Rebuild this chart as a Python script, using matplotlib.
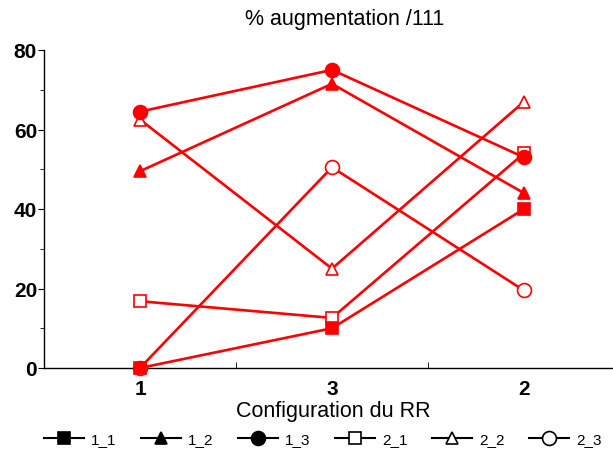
import matplotlib
matplotlib.use("Agg")
import matplotlib.pyplot as plt
from matplotlib.lines import Line2D

categories = ["1", "3", "2"]
series_names = ["1_1", "1_2", "1_3", "2_1", "2_2", "2_3"]
s1_1 = [0, 10, 40]
s1_2 = [49.5, 71.5, 44]
s1_3 = [64.5, 75, 53]
s2_1 = [16.8, 12.6, 54]
s2_2 = [62.5, 25, 67]
s2_3 = [0, 50.5, 19.5]
values = [s1_1, s1_2, s1_3, s2_1, s2_2, s2_3]
markers = ["s", "^", "o", "s", "^", "o"]
filled = [True, True, True, False, False, False]

plt.rcParams['font.family'] = ['Liberation Sans', 'DejaVu Sans']

W, H = 613, 456
fig = plt.figure(figsize=(W / 100, H / 100), dpi=100)
x0 = 140 - 96
ax = fig.add_axes([x0 / W, (H - 369) / H, (W - x0) / W, 318 / H])

xs = list(range(len(categories)))
order = [5, 4, 3, 2, 1, 0]
for i in order:
    ax.plot(xs, values[i], color="red", lw=1.9, marker=markers[i],
            ms=9 if markers[i] != "o" else 10,
            mfc="red" if filled[i] else "white", mec="red", mew=1.2,
            clip_on=False, zorder=3 + (len(order) - i))

ax.set_xlim(-0.5, (W - 140) / 192)
ax.set_ylim(0, 80)
ax.set_xticks(xs)
ax.set_xticklabels(categories, fontsize=15, fontweight="bold")
ax.set_xticks([0.5, 1.5], minor=True)
ax.tick_params(axis="x", which="major", length=0, pad=8)
ax.tick_params(axis="x", which="minor", length=4, direction="in")
ax.set_yticks([0, 20, 40, 60, 80])
ax.set_yticklabels(["0", "20", "40", "60", "80"], fontsize=15, fontweight="bold")
ax.set_yticks([10, 30, 50, 70], minor=True)
ax.tick_params(axis="y", which="major", length=4, pad=1)
ax.tick_params(axis="y", which="minor", length=3)
for s in ["top", "right"]:
    ax.spines[s].set_visible(False)
for s in ["left", "bottom"]:
    ax.spines[s].set_linewidth(1.0)

fig.text(333 / W, 1 - 412 / H, "Configuration du RR", fontsize=15.5,
         ha="center", va="center")
fig.text(345 / W, 1 - 20 / H, "% augmentation /111", fontsize=15.5,
         ha="center", va="center")

handles = [Line2D([], [], color="black", lw=1.5, marker=markers[i], ms=9 if markers[i] != "o" else 10,
                  mfc="black" if filled[i] else "white", mec="black", mew=1.2)
           for i in range(6)]
fig.legend(handles, series_names, loc="center left", bbox_to_anchor=(44 / W, 1 - 440 / H),
           ncol=6, frameon=False, fontsize=11, handlelength=2.62, handletextpad=0.46,
           columnspacing=1.6, borderpad=0, borderaxespad=0)

fig.savefig("out.png", dpi=100)
